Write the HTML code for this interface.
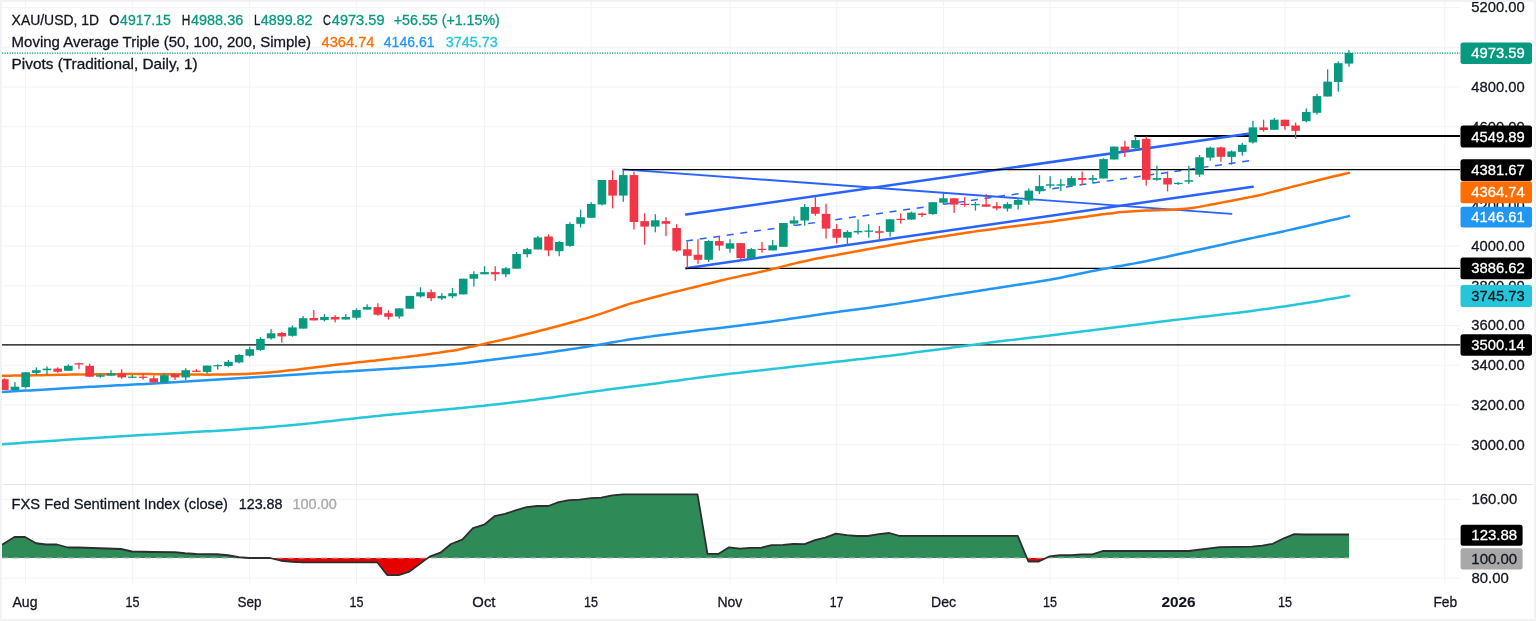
<!DOCTYPE html>
<html lang="en"><head><meta charset="utf-8"><title>XAU/USD 1D chart</title>
<style>html,body{margin:0;padding:0;background:#fff;overflow:hidden}svg{display:block}text{white-space:pre}</style>
</head><body>
<svg width="1536" height="621" viewBox="0 0 1536 621" font-family='"Liberation Sans", sans-serif' font-size="15">
<rect width="1536" height="621" fill="#fff"/>
<g stroke="#f2f3f6" stroke-width="1" fill="none">
<path d="M25.5,2 V584.3"/>
<path d="M132.4,2 V584.3"/>
<path d="M249.6,2 V584.3"/>
<path d="M356.5,2 V584.3"/>
<path d="M484.6,2 V584.3"/>
<path d="M591.2,2 V584.3"/>
<path d="M730.1,2 V584.3"/>
<path d="M836.7,2 V584.3"/>
<path d="M943.5,2 V584.3"/>
<path d="M1050.0,2 V584.3"/>
<path d="M1178.0,2 V584.3"/>
<path d="M1284.9,2 V584.3"/>
<path d="M1444.8,2 V584.3"/>
<path d="M2,7.50 H1460.3"/>
<path d="M2,47.25 H1460.3"/>
<path d="M2,87.00 H1460.3"/>
<path d="M2,126.75 H1460.3"/>
<path d="M2,166.50 H1460.3"/>
<path d="M2,206.25 H1460.3"/>
<path d="M2,246.00 H1460.3"/>
<path d="M2,285.75 H1460.3"/>
<path d="M2,325.50 H1460.3"/>
<path d="M2,365.25 H1460.3"/>
<path d="M2,405.00 H1460.3"/>
<path d="M2,444.75 H1460.3"/>
<path d="M2,499.3 H1460.3"/>
<path d="M2,538.9 H1460.3"/>
<path d="M2,578.2 H1460.3"/>
</g>
<path d="M2,484.5 H1534.2" stroke="#e4e7ee" stroke-width="1.2"/>
<clipPath id="cp"><rect x="1.7" y="1.8" width="1458.6" height="582"/></clipPath>
<g clip-path="url(#cp)">
<path d="M2,53.1 H1460.3" stroke="#089981" stroke-width="1.25" stroke-dasharray="1.25 1.25" fill="none"/>
<path d="M1134.3,136 H1460.3" stroke="#000" stroke-width="2.2"/>
<g stroke="#2962ff" fill="none" stroke-linecap="round">
<path d="M686.1,214.6 L1248.2,133.7" stroke-width="2.5"/>
<path d="M686.1,268.2 L1252.7,186.8" stroke-width="2.5"/>
<path d="M686.1,241 L1252.8,160.3" stroke-width="1.5" stroke-dasharray="7 6.7" stroke-linecap="butt"/>
<path d="M622.9,169.4 L1231.4,213.9" stroke-width="1.9"/>
</g>
<path d="M2,344.8 H1460.3" stroke="#000" stroke-width="1.15"/>
<path d="M686,268.4 H1460.3" stroke="#000" stroke-width="1.15"/>
<path d="M623,169.6 H1460.3" stroke="#000" stroke-width="1.15"/>
<path d="M2.00,444.25 C4.67,444.07 7.33,443.88 10.00,443.70 C12.67,443.52 15.33,443.33 18.00,443.15 C20.67,442.96 23.33,442.78 26.00,442.60 C28.67,442.41 31.33,442.23 34.00,442.05 C36.67,441.86 39.33,441.68 42.00,441.49 C44.67,441.31 47.33,441.13 50.00,440.94 C52.67,440.76 55.33,440.58 58.00,440.39 C60.67,440.21 63.33,440.03 66.00,439.84 C68.67,439.66 71.33,439.48 74.00,439.29 C76.67,439.11 79.33,438.93 82.00,438.75 C84.67,438.57 87.33,438.39 90.00,438.21 C92.67,438.03 95.33,437.86 98.00,437.69 C100.67,437.52 103.33,437.35 106.00,437.19 C108.67,437.03 111.33,436.87 114.00,436.71 C116.67,436.55 119.33,436.39 122.00,436.24 C124.67,436.08 127.33,435.93 130.00,435.78 C132.67,435.62 135.33,435.47 138.00,435.32 C140.67,435.16 143.33,435.01 146.00,434.86 C148.67,434.70 151.33,434.55 154.00,434.39 C156.67,434.24 159.33,434.09 162.00,433.93 C164.67,433.78 167.33,433.63 170.00,433.47 C172.67,433.32 175.33,433.17 178.00,433.01 C180.67,432.86 183.33,432.71 186.00,432.55 C188.67,432.40 191.33,432.24 194.00,432.08 C196.67,431.93 199.33,431.77 202.00,431.61 C204.67,431.45 207.33,431.29 210.00,431.13 C212.67,430.97 215.33,430.81 218.00,430.64 C220.67,430.48 223.33,430.32 226.00,430.15 C228.67,429.98 231.33,429.82 234.00,429.65 C236.67,429.47 239.33,429.30 242.00,429.12 C244.67,428.94 247.33,428.75 250.00,428.55 C252.67,428.36 255.33,428.16 258.00,427.95 C260.67,427.74 263.33,427.53 266.00,427.32 C268.67,427.10 271.33,426.88 274.00,426.66 C276.67,426.43 279.33,426.21 282.00,425.98 C284.67,425.75 287.33,425.52 290.00,425.28 C292.67,425.04 295.33,424.79 298.00,424.54 C300.67,424.28 303.33,424.01 306.00,423.74 C308.67,423.47 311.33,423.19 314.00,422.90 C316.67,422.62 319.33,422.33 322.00,422.03 C324.67,421.74 327.33,421.45 330.00,421.15 C332.67,420.85 335.33,420.56 338.00,420.26 C340.67,419.96 343.33,419.67 346.00,419.37 C348.67,419.08 351.33,418.78 354.00,418.49 C356.67,418.19 359.33,417.90 362.00,417.61 C364.67,417.32 367.33,417.03 370.00,416.75 C372.67,416.46 375.33,416.18 378.00,415.90 C380.67,415.63 383.33,415.36 386.00,415.09 C388.67,414.82 391.33,414.56 394.00,414.30 C396.67,414.04 399.33,413.79 402.00,413.54 C404.67,413.29 407.33,413.04 410.00,412.79 C412.67,412.54 415.33,412.29 418.00,412.04 C420.67,411.79 423.33,411.55 426.00,411.30 C428.67,411.05 431.33,410.80 434.00,410.55 C436.67,410.30 439.33,410.05 442.00,409.80 C444.67,409.54 447.33,409.29 450.00,409.04 C452.67,408.79 455.33,408.53 458.00,408.28 C460.67,408.02 463.33,407.76 466.00,407.50 C468.67,407.24 471.33,406.98 474.00,406.71 C476.67,406.44 479.33,406.17 482.00,405.89 C484.67,405.61 487.33,405.33 490.00,405.04 C492.67,404.74 495.33,404.44 498.00,404.14 C500.67,403.84 503.33,403.53 506.00,403.22 C508.67,402.91 511.33,402.60 514.00,402.29 C516.67,401.97 519.33,401.66 522.00,401.34 C524.67,401.02 527.33,400.69 530.00,400.36 C532.67,400.03 535.33,399.69 538.00,399.35 C540.67,399.00 543.33,398.64 546.00,398.28 C548.67,397.91 551.33,397.53 554.00,397.16 C556.67,396.78 559.33,396.39 562.00,396.01 C564.67,395.62 567.33,395.23 570.00,394.84 C572.67,394.46 575.33,394.07 578.00,393.69 C580.67,393.31 583.33,392.93 586.00,392.55 C588.67,392.18 591.33,391.81 594.00,391.45 C596.67,391.09 599.33,390.74 602.00,390.39 C604.67,390.03 607.33,389.69 610.00,389.35 C612.67,389.00 615.33,388.66 618.00,388.32 C620.67,387.98 623.33,387.64 626.00,387.30 C628.67,386.96 631.33,386.62 634.00,386.28 C636.67,385.94 639.33,385.59 642.00,385.25 C644.67,384.90 647.33,384.56 650.00,384.21 C652.67,383.86 655.33,383.50 658.00,383.15 C660.67,382.80 663.33,382.44 666.00,382.08 C668.67,381.73 671.33,381.37 674.00,381.01 C676.67,380.65 679.33,380.29 682.00,379.94 C684.67,379.58 687.33,379.22 690.00,378.87 C692.67,378.52 695.33,378.16 698.00,377.82 C700.67,377.47 703.33,377.12 706.00,376.78 C708.67,376.44 711.33,376.11 714.00,375.77 C716.67,375.44 719.33,375.11 722.00,374.79 C724.67,374.46 727.33,374.14 730.00,373.82 C732.67,373.51 735.33,373.20 738.00,372.89 C740.67,372.58 743.33,372.28 746.00,371.97 C748.67,371.67 751.33,371.37 754.00,371.07 C756.67,370.77 759.33,370.47 762.00,370.17 C764.67,369.87 767.33,369.57 770.00,369.27 C772.67,368.97 775.33,368.67 778.00,368.37 C780.67,368.07 783.33,367.77 786.00,367.47 C788.67,367.16 791.33,366.86 794.00,366.56 C796.67,366.26 799.33,365.96 802.00,365.66 C804.67,365.36 807.33,365.06 810.00,364.76 C812.67,364.45 815.33,364.15 818.00,363.85 C820.67,363.55 823.33,363.25 826.00,362.95 C828.67,362.65 831.33,362.35 834.00,362.05 C836.67,361.75 839.33,361.45 842.00,361.15 C844.67,360.85 847.33,360.55 850.00,360.25 C852.67,359.94 855.33,359.65 858.00,359.34 C860.67,359.04 863.33,358.74 866.00,358.44 C868.67,358.14 871.33,357.84 874.00,357.53 C876.67,357.23 879.33,356.92 882.00,356.60 C884.67,356.29 887.33,355.97 890.00,355.65 C892.67,355.32 895.33,354.99 898.00,354.66 C900.67,354.32 903.33,353.98 906.00,353.64 C908.67,353.30 911.33,352.95 914.00,352.61 C916.67,352.26 919.33,351.91 922.00,351.56 C924.67,351.21 927.33,350.86 930.00,350.51 C932.67,350.16 935.33,349.81 938.00,349.46 C940.67,349.11 943.33,348.76 946.00,348.41 C948.67,348.06 951.33,347.71 954.00,347.35 C956.67,347.00 959.33,346.65 962.00,346.29 C964.67,345.94 967.33,345.59 970.00,345.23 C972.67,344.88 975.33,344.53 978.00,344.18 C980.67,343.83 983.33,343.47 986.00,343.13 C988.67,342.78 991.33,342.44 994.00,342.10 C996.67,341.76 999.33,341.43 1002.00,341.10 C1004.67,340.77 1007.33,340.45 1010.00,340.13 C1012.67,339.82 1015.33,339.50 1018.00,339.19 C1020.67,338.88 1023.33,338.57 1026.00,338.26 C1028.67,337.95 1031.33,337.64 1034.00,337.33 C1036.67,337.02 1039.33,336.71 1042.00,336.39 C1044.67,336.08 1047.33,335.76 1050.00,335.44 C1052.67,335.12 1055.33,334.79 1058.00,334.46 C1060.67,334.14 1063.33,333.81 1066.00,333.47 C1068.67,333.14 1071.33,332.81 1074.00,332.47 C1076.67,332.14 1079.33,331.80 1082.00,331.47 C1084.67,331.13 1087.33,330.80 1090.00,330.46 C1092.67,330.13 1095.33,329.79 1098.00,329.46 C1100.67,329.12 1103.33,328.79 1106.00,328.45 C1108.67,328.12 1111.33,327.79 1114.00,327.45 C1116.67,327.12 1119.33,326.78 1122.00,326.45 C1124.67,326.12 1127.33,325.79 1130.00,325.46 C1132.67,325.12 1135.33,324.79 1138.00,324.46 C1140.67,324.13 1143.33,323.81 1146.00,323.48 C1148.67,323.15 1151.33,322.82 1154.00,322.50 C1156.67,322.17 1159.33,321.85 1162.00,321.53 C1164.67,321.20 1167.33,320.88 1170.00,320.56 C1172.67,320.25 1175.33,319.93 1178.00,319.62 C1180.67,319.30 1183.33,319.00 1186.00,318.69 C1188.67,318.38 1191.33,318.08 1194.00,317.77 C1196.67,317.47 1199.33,317.16 1202.00,316.86 C1204.67,316.56 1207.33,316.25 1210.00,315.95 C1212.67,315.64 1215.33,315.34 1218.00,315.03 C1220.67,314.72 1223.33,314.41 1226.00,314.10 C1228.67,313.78 1231.33,313.47 1234.00,313.15 C1236.67,312.83 1239.33,312.51 1242.00,312.18 C1244.67,311.85 1247.33,311.51 1250.00,311.17 C1252.67,310.82 1255.33,310.47 1258.00,310.11 C1260.67,309.75 1263.33,309.38 1266.00,309.01 C1268.67,308.64 1271.33,308.26 1274.00,307.88 C1276.67,307.50 1279.33,307.11 1282.00,306.72 C1284.67,306.32 1287.33,305.93 1290.00,305.52 C1292.67,305.12 1295.33,304.71 1298.00,304.30 C1300.67,303.89 1303.33,303.47 1306.00,303.05 C1308.67,302.62 1311.33,302.20 1314.00,301.76 C1316.67,301.32 1319.33,300.88 1322.00,300.43 C1324.67,299.98 1327.33,299.52 1330.00,299.06 C1332.67,298.60 1335.33,298.13 1338.00,297.66 C1341.67,297.01 1345.33,296.35 1349.00,295.70" stroke="#26c6da" stroke-width="2.5" fill="none" stroke-linecap="round" stroke-linejoin="round"/>
<path d="M2.00,392.00 C4.67,391.85 7.33,391.69 10.00,391.54 C12.67,391.39 15.33,391.24 18.00,391.08 C20.67,390.93 23.33,390.78 26.00,390.62 C28.67,390.47 31.33,390.32 34.00,390.17 C36.67,390.01 39.33,389.86 42.00,389.70 C44.67,389.55 47.33,389.39 50.00,389.24 C52.67,389.08 55.33,388.92 58.00,388.77 C60.67,388.61 63.33,388.45 66.00,388.29 C68.67,388.13 71.33,387.97 74.00,387.81 C76.67,387.65 79.33,387.49 82.00,387.33 C84.67,387.18 87.33,387.02 90.00,386.86 C92.67,386.71 95.33,386.56 98.00,386.41 C100.67,386.26 103.33,386.12 106.00,385.97 C108.67,385.83 111.33,385.69 114.00,385.56 C116.67,385.42 119.33,385.29 122.00,385.15 C124.67,385.02 127.33,384.88 130.00,384.75 C132.67,384.61 135.33,384.48 138.00,384.34 C140.67,384.20 143.33,384.06 146.00,383.92 C148.67,383.78 151.33,383.63 154.00,383.48 C156.67,383.33 159.33,383.18 162.00,383.02 C164.67,382.86 167.33,382.71 170.00,382.55 C172.67,382.39 175.33,382.23 178.00,382.07 C180.67,381.91 183.33,381.75 186.00,381.59 C188.67,381.42 191.33,381.26 194.00,381.10 C196.67,380.93 199.33,380.76 202.00,380.59 C204.67,380.42 207.33,380.25 210.00,380.08 C212.67,379.90 215.33,379.73 218.00,379.55 C220.67,379.38 223.33,379.20 226.00,379.03 C228.67,378.85 231.33,378.67 234.00,378.50 C236.67,378.32 239.33,378.14 242.00,377.97 C244.67,377.79 247.33,377.62 250.00,377.45 C252.67,377.27 255.33,377.10 258.00,376.93 C260.67,376.76 263.33,376.59 266.00,376.42 C268.67,376.25 271.33,376.08 274.00,375.91 C276.67,375.74 279.33,375.57 282.00,375.40 C284.67,375.23 287.33,375.06 290.00,374.89 C292.67,374.72 295.33,374.55 298.00,374.38 C300.67,374.21 303.33,374.05 306.00,373.88 C308.67,373.71 311.33,373.54 314.00,373.38 C316.67,373.21 319.33,373.04 322.00,372.88 C324.67,372.71 327.33,372.54 330.00,372.38 C332.67,372.21 335.33,372.04 338.00,371.88 C340.67,371.71 343.33,371.55 346.00,371.39 C348.67,371.22 351.33,371.06 354.00,370.91 C356.67,370.75 359.33,370.60 362.00,370.44 C364.67,370.29 367.33,370.14 370.00,370.00 C372.67,369.85 375.33,369.70 378.00,369.55 C380.67,369.40 383.33,369.25 386.00,369.10 C388.67,368.94 391.33,368.78 394.00,368.62 C396.67,368.46 399.33,368.29 402.00,368.12 C404.67,367.95 407.33,367.77 410.00,367.59 C412.67,367.42 415.33,367.24 418.00,367.05 C420.67,366.87 423.33,366.69 426.00,366.49 C428.67,366.30 431.33,366.11 434.00,365.90 C436.67,365.70 439.33,365.49 442.00,365.27 C444.67,365.05 447.33,364.82 450.00,364.58 C452.67,364.33 455.33,364.07 458.00,363.80 C460.67,363.53 463.33,363.24 466.00,362.94 C468.67,362.64 471.33,362.32 474.00,362.01 C476.67,361.69 479.33,361.36 482.00,361.04 C484.67,360.71 487.33,360.38 490.00,360.04 C492.67,359.71 495.33,359.38 498.00,359.04 C500.67,358.71 503.33,358.37 506.00,358.04 C508.67,357.70 511.33,357.37 514.00,357.03 C516.67,356.69 519.33,356.35 522.00,356.01 C524.67,355.67 527.33,355.33 530.00,354.98 C532.67,354.63 535.33,354.28 538.00,353.92 C540.67,353.56 543.33,353.19 546.00,352.82 C548.67,352.44 551.33,352.06 554.00,351.68 C556.67,351.29 559.33,350.90 562.00,350.51 C564.67,350.12 567.33,349.73 570.00,349.33 C572.67,348.93 575.33,348.54 578.00,348.13 C580.67,347.72 583.33,347.31 586.00,346.89 C588.67,346.46 591.33,346.02 594.00,345.57 C596.67,345.12 599.33,344.66 602.00,344.19 C604.67,343.73 607.33,343.24 610.00,342.78 C612.67,342.31 615.33,341.84 618.00,341.39 C620.67,340.94 623.33,340.50 626.00,340.07 C628.67,339.65 631.33,339.25 634.00,338.86 C636.67,338.47 639.33,338.10 642.00,337.73 C644.67,337.35 647.33,336.99 650.00,336.63 C652.67,336.27 655.33,335.91 658.00,335.55 C660.67,335.20 663.33,334.84 666.00,334.49 C668.67,334.14 671.33,333.80 674.00,333.46 C676.67,333.12 679.33,332.79 682.00,332.46 C684.67,332.13 687.33,331.81 690.00,331.49 C692.67,331.17 695.33,330.85 698.00,330.53 C700.67,330.22 703.33,329.90 706.00,329.59 C708.67,329.27 711.33,328.96 714.00,328.64 C716.67,328.32 719.33,328.01 722.00,327.69 C724.67,327.37 727.33,327.05 730.00,326.73 C732.67,326.41 735.33,326.09 738.00,325.76 C740.67,325.44 743.33,325.11 746.00,324.79 C748.67,324.46 751.33,324.13 754.00,323.79 C756.67,323.46 759.33,323.12 762.00,322.78 C764.67,322.43 767.33,322.07 770.00,321.71 C772.67,321.35 775.33,320.97 778.00,320.59 C780.67,320.22 783.33,319.83 786.00,319.44 C788.67,319.05 791.33,318.66 794.00,318.27 C796.67,317.88 799.33,317.49 802.00,317.09 C804.67,316.70 807.33,316.31 810.00,315.92 C812.67,315.53 815.33,315.13 818.00,314.74 C820.67,314.35 823.33,313.96 826.00,313.58 C828.67,313.20 831.33,312.82 834.00,312.44 C836.67,312.07 839.33,311.70 842.00,311.33 C844.67,310.97 847.33,310.61 850.00,310.26 C852.67,309.90 855.33,309.55 858.00,309.20 C860.67,308.85 863.33,308.50 866.00,308.14 C868.67,307.79 871.33,307.44 874.00,307.08 C876.67,306.72 879.33,306.36 882.00,305.99 C884.67,305.62 887.33,305.24 890.00,304.84 C892.67,304.45 895.33,304.05 898.00,303.63 C900.67,303.22 903.33,302.79 906.00,302.37 C908.67,301.94 911.33,301.50 914.00,301.07 C916.67,300.64 919.33,300.20 922.00,299.77 C924.67,299.33 927.33,298.90 930.00,298.46 C932.67,298.03 935.33,297.60 938.00,297.17 C940.67,296.74 943.33,296.32 946.00,295.89 C948.67,295.47 951.33,295.05 954.00,294.63 C956.67,294.22 959.33,293.80 962.00,293.39 C964.67,292.97 967.33,292.56 970.00,292.15 C972.67,291.73 975.33,291.32 978.00,290.91 C980.67,290.50 983.33,290.08 986.00,289.67 C988.67,289.26 991.33,288.85 994.00,288.44 C996.67,288.03 999.33,287.62 1002.00,287.22 C1004.67,286.81 1007.33,286.41 1010.00,286.01 C1012.67,285.60 1015.33,285.20 1018.00,284.80 C1020.67,284.40 1023.33,284.00 1026.00,283.59 C1028.67,283.19 1031.33,282.79 1034.00,282.37 C1036.67,281.95 1039.33,281.53 1042.00,281.09 C1044.67,280.64 1047.33,280.19 1050.00,279.70 C1052.67,279.22 1055.33,278.71 1058.00,278.19 C1060.67,277.67 1063.33,277.12 1066.00,276.58 C1068.67,276.03 1071.33,275.47 1074.00,274.91 C1076.67,274.35 1079.33,273.79 1082.00,273.23 C1084.67,272.67 1087.33,272.12 1090.00,271.58 C1092.67,271.04 1095.33,270.50 1098.00,269.99 C1100.67,269.47 1103.33,268.97 1106.00,268.48 C1108.67,267.99 1111.33,267.52 1114.00,267.05 C1116.67,266.58 1119.33,266.12 1122.00,265.65 C1124.67,265.18 1127.33,264.72 1130.00,264.24 C1132.67,263.75 1135.33,263.27 1138.00,262.76 C1140.67,262.25 1143.33,261.72 1146.00,261.18 C1148.67,260.64 1151.33,260.08 1154.00,259.52 C1156.67,258.96 1159.33,258.38 1162.00,257.81 C1164.67,257.23 1167.33,256.65 1170.00,256.07 C1172.67,255.49 1175.33,254.91 1178.00,254.32 C1180.67,253.74 1183.33,253.16 1186.00,252.57 C1188.67,251.99 1191.33,251.40 1194.00,250.82 C1196.67,250.23 1199.33,249.64 1202.00,249.06 C1204.67,248.47 1207.33,247.89 1210.00,247.30 C1212.67,246.71 1215.33,246.13 1218.00,245.54 C1220.67,244.95 1223.33,244.37 1226.00,243.78 C1228.67,243.19 1231.33,242.61 1234.00,242.02 C1236.67,241.44 1239.33,240.86 1242.00,240.28 C1244.67,239.70 1247.33,239.12 1250.00,238.55 C1252.67,237.97 1255.33,237.40 1258.00,236.83 C1260.67,236.26 1263.33,235.70 1266.00,235.13 C1268.67,234.56 1271.33,234.00 1274.00,233.42 C1276.67,232.85 1279.33,232.27 1282.00,231.68 C1284.67,231.09 1287.33,230.49 1290.00,229.89 C1292.67,229.29 1295.33,228.67 1298.00,228.05 C1300.67,227.44 1303.33,226.81 1306.00,226.19 C1308.67,225.56 1311.33,224.94 1314.00,224.31 C1316.67,223.69 1319.33,223.06 1322.00,222.43 C1324.67,221.81 1327.33,221.18 1330.00,220.56 C1332.67,219.93 1335.33,219.30 1338.00,218.68 C1341.67,217.82 1345.33,216.96 1349.00,216.10" stroke="#2196f3" stroke-width="2.5" fill="none" stroke-linecap="round" stroke-linejoin="round"/>
<path d="M2.00,375.75 C4.67,375.72 7.33,375.69 10.00,375.66 C12.67,375.63 15.33,375.60 18.00,375.57 C20.67,375.53 23.33,375.50 26.00,375.46 C28.67,375.41 31.33,375.36 34.00,375.32 C36.67,375.27 39.33,375.21 42.00,375.16 C44.67,375.11 47.33,375.05 50.00,375.00 C52.67,374.95 55.33,374.89 58.00,374.84 C60.67,374.79 63.33,374.73 66.00,374.69 C68.67,374.64 71.33,374.59 74.00,374.55 C76.67,374.51 79.33,374.48 82.00,374.45 C84.67,374.42 87.33,374.39 90.00,374.37 C92.67,374.34 95.33,374.32 98.00,374.30 C100.67,374.27 103.33,374.25 106.00,374.23 C108.67,374.20 111.33,374.18 114.00,374.16 C116.67,374.14 119.33,374.11 122.00,374.09 C124.67,374.08 127.33,374.06 130.00,374.05 C132.67,374.04 135.33,374.04 138.00,374.05 C140.67,374.06 143.33,374.07 146.00,374.08 C148.67,374.10 151.33,374.11 154.00,374.13 C156.67,374.14 159.33,374.16 162.00,374.18 C164.67,374.19 167.33,374.21 170.00,374.23 C172.67,374.25 175.33,374.28 178.00,374.31 C180.67,374.34 183.33,374.37 186.00,374.41 C188.67,374.44 191.33,374.49 194.00,374.52 C196.67,374.55 199.33,374.59 202.00,374.61 C204.67,374.63 207.33,374.65 210.00,374.64 C212.67,374.64 215.33,374.61 218.00,374.57 C220.67,374.54 223.33,374.49 226.00,374.44 C228.67,374.39 231.33,374.34 234.00,374.28 C236.67,374.22 239.33,374.17 242.00,374.09 C244.67,374.00 247.33,373.90 250.00,373.77 C252.67,373.63 255.33,373.46 258.00,373.28 C260.67,373.09 263.33,372.89 266.00,372.67 C268.67,372.46 271.33,372.23 274.00,371.99 C276.67,371.74 279.33,371.48 282.00,371.20 C284.67,370.93 287.33,370.64 290.00,370.34 C292.67,370.05 295.33,369.74 298.00,369.44 C300.67,369.13 303.33,368.81 306.00,368.48 C308.67,368.16 311.33,367.83 314.00,367.50 C316.67,367.17 319.33,366.83 322.00,366.51 C324.67,366.18 327.33,365.85 330.00,365.53 C332.67,365.21 335.33,364.90 338.00,364.58 C340.67,364.27 343.33,363.96 346.00,363.66 C348.67,363.35 351.33,363.05 354.00,362.76 C356.67,362.46 359.33,362.18 362.00,361.89 C364.67,361.61 367.33,361.33 370.00,361.05 C372.67,360.77 375.33,360.49 378.00,360.20 C380.67,359.91 383.33,359.61 386.00,359.31 C388.67,359.00 391.33,358.68 394.00,358.36 C396.67,358.04 399.33,357.71 402.00,357.38 C404.67,357.05 407.33,356.72 410.00,356.39 C412.67,356.06 415.33,355.73 418.00,355.40 C420.67,355.07 423.33,354.74 426.00,354.40 C428.67,354.06 431.33,353.71 434.00,353.36 C436.67,353.00 439.33,352.64 442.00,352.26 C444.67,351.89 447.33,351.51 450.00,351.09 C452.67,350.66 455.33,350.21 458.00,349.70 C460.67,349.20 463.33,348.62 466.00,348.04 C468.67,347.46 471.33,346.83 474.00,346.21 C476.67,345.60 479.33,344.98 482.00,344.38 C484.67,343.77 487.33,343.18 490.00,342.59 C492.67,341.99 495.33,341.42 498.00,340.83 C500.67,340.25 503.33,339.66 506.00,339.06 C508.67,338.45 511.33,337.83 514.00,337.20 C516.67,336.56 519.33,335.90 522.00,335.24 C524.67,334.58 527.33,333.91 530.00,333.25 C532.67,332.58 535.33,331.90 538.00,331.23 C540.67,330.55 543.33,329.87 546.00,329.18 C548.67,328.49 551.33,327.80 554.00,327.10 C556.67,326.41 559.33,325.71 562.00,324.99 C564.67,324.28 567.33,323.56 570.00,322.83 C572.67,322.10 575.33,321.36 578.00,320.61 C580.67,319.86 583.33,319.11 586.00,318.33 C588.67,317.55 591.33,316.75 594.00,315.91 C596.67,315.08 599.33,314.22 602.00,313.33 C604.67,312.44 607.33,311.52 610.00,310.59 C612.67,309.65 615.33,308.67 618.00,307.74 C620.67,306.82 623.33,305.89 626.00,305.03 C628.67,304.18 631.33,303.40 634.00,302.63 C636.67,301.86 639.33,301.15 642.00,300.42 C644.67,299.70 647.33,298.99 650.00,298.28 C652.67,297.57 655.33,296.87 658.00,296.18 C660.67,295.48 663.33,294.79 666.00,294.10 C668.67,293.42 671.33,292.73 674.00,292.06 C676.67,291.40 679.33,290.74 682.00,290.09 C684.67,289.43 687.33,288.79 690.00,288.15 C692.67,287.50 695.33,286.86 698.00,286.21 C700.67,285.56 703.33,284.90 706.00,284.24 C708.67,283.58 711.33,282.91 714.00,282.25 C716.67,281.59 719.33,280.92 722.00,280.28 C724.67,279.63 727.33,279.00 730.00,278.39 C732.67,277.78 735.33,277.20 738.00,276.63 C740.67,276.05 743.33,275.50 746.00,274.95 C748.67,274.39 751.33,273.85 754.00,273.28 C756.67,272.72 759.33,272.17 762.00,271.58 C764.67,270.98 767.33,270.37 770.00,269.72 C772.67,269.08 775.33,268.38 778.00,267.70 C780.67,267.02 783.33,266.31 786.00,265.63 C788.67,264.95 791.33,264.29 794.00,263.64 C796.67,263.00 799.33,262.37 802.00,261.76 C804.67,261.15 807.33,260.54 810.00,259.97 C812.67,259.40 815.33,258.86 818.00,258.34 C820.67,257.82 823.33,257.34 826.00,256.85 C828.67,256.37 831.33,255.91 834.00,255.43 C836.67,254.95 839.33,254.48 842.00,253.99 C844.67,253.51 847.33,253.02 850.00,252.53 C852.67,252.04 855.33,251.55 858.00,251.06 C860.67,250.56 863.33,250.07 866.00,249.58 C868.67,249.09 871.33,248.60 874.00,248.12 C876.67,247.63 879.33,247.15 882.00,246.67 C884.67,246.19 887.33,245.72 890.00,245.25 C892.67,244.78 895.33,244.32 898.00,243.85 C900.67,243.38 903.33,242.92 906.00,242.45 C908.67,241.99 911.33,241.52 914.00,241.07 C916.67,240.61 919.33,240.16 922.00,239.72 C924.67,239.27 927.33,238.84 930.00,238.41 C932.67,237.98 935.33,237.56 938.00,237.14 C940.67,236.72 943.33,236.30 946.00,235.89 C948.67,235.48 951.33,235.08 954.00,234.67 C956.67,234.27 959.33,233.86 962.00,233.46 C964.67,233.06 967.33,232.66 970.00,232.26 C972.67,231.87 975.33,231.48 978.00,231.10 C980.67,230.72 983.33,230.35 986.00,229.98 C988.67,229.62 991.33,229.27 994.00,228.91 C996.67,228.56 999.33,228.21 1002.00,227.86 C1004.67,227.51 1007.33,227.16 1010.00,226.82 C1012.67,226.47 1015.33,226.12 1018.00,225.78 C1020.67,225.43 1023.33,225.09 1026.00,224.76 C1028.67,224.42 1031.33,224.09 1034.00,223.75 C1036.67,223.41 1039.33,223.08 1042.00,222.74 C1044.67,222.40 1047.33,222.05 1050.00,221.70 C1052.67,221.34 1055.33,220.97 1058.00,220.61 C1060.67,220.24 1063.33,219.86 1066.00,219.48 C1068.67,219.11 1071.33,218.73 1074.00,218.35 C1076.67,217.98 1079.33,217.60 1082.00,217.22 C1084.67,216.85 1087.33,216.47 1090.00,216.10 C1092.67,215.73 1095.33,215.35 1098.00,214.98 C1100.67,214.61 1103.33,214.24 1106.00,213.89 C1108.67,213.55 1111.33,213.21 1114.00,212.91 C1116.67,212.61 1119.33,212.32 1122.00,212.07 C1124.67,211.82 1127.33,211.60 1130.00,211.41 C1132.67,211.22 1135.33,211.08 1138.00,210.95 C1140.67,210.82 1143.33,210.72 1146.00,210.62 C1148.67,210.51 1151.33,210.42 1154.00,210.32 C1156.67,210.23 1159.33,210.13 1162.00,210.03 C1164.67,209.93 1167.33,209.84 1170.00,209.72 C1172.67,209.60 1175.33,209.47 1178.00,209.29 C1180.67,209.11 1183.33,208.91 1186.00,208.64 C1188.67,208.37 1191.33,208.06 1194.00,207.68 C1196.67,207.31 1199.33,206.85 1202.00,206.37 C1204.67,205.90 1207.33,205.35 1210.00,204.84 C1212.67,204.32 1215.33,203.78 1218.00,203.27 C1220.67,202.75 1223.33,202.24 1226.00,201.74 C1228.67,201.23 1231.33,200.73 1234.00,200.22 C1236.67,199.71 1239.33,199.21 1242.00,198.69 C1244.67,198.18 1247.33,197.66 1250.00,197.13 C1252.67,196.59 1255.33,196.05 1258.00,195.47 C1260.67,194.88 1263.33,194.26 1266.00,193.61 C1268.67,192.96 1271.33,192.26 1274.00,191.56 C1276.67,190.87 1279.33,190.16 1282.00,189.46 C1284.67,188.77 1287.33,188.08 1290.00,187.40 C1292.67,186.72 1295.33,186.06 1298.00,185.39 C1300.67,184.72 1303.33,184.05 1306.00,183.38 C1308.67,182.71 1311.33,182.02 1314.00,181.34 C1316.67,180.67 1319.33,179.97 1322.00,179.30 C1324.67,178.63 1327.33,177.96 1330.00,177.31 C1332.67,176.66 1335.33,176.03 1338.00,175.41 C1341.67,174.56 1345.33,173.74 1349.00,172.90" stroke="#ff6d00" stroke-width="2.5" fill="none" stroke-linecap="round" stroke-linejoin="round"/>
<rect x="3.65" y="378.30" width="1.3" height="11.70" fill="#f23645"/>
<rect x="0.00" y="379.20" width="8.6" height="10.80" fill="#f23645"/>
<rect x="14.32" y="382.10" width="1.3" height="7.90" fill="#089981"/>
<rect x="10.67" y="386.70" width="8.6" height="3.30" fill="#089981"/>
<rect x="24.99" y="372.30" width="1.3" height="16.10" fill="#089981"/>
<rect x="21.34" y="372.30" width="8.6" height="14.80" fill="#089981"/>
<rect x="35.67" y="367.40" width="1.3" height="7.50" fill="#089981"/>
<rect x="32.02" y="370.20" width="8.6" height="2.70" fill="#089981"/>
<rect x="46.34" y="366.40" width="1.3" height="8.10" fill="#089981"/>
<rect x="42.69" y="368.60" width="8.6" height="1.60" fill="#089981"/>
<rect x="57.01" y="367.40" width="1.3" height="5.30" fill="#f23645"/>
<rect x="53.36" y="368.60" width="8.6" height="3.20" fill="#f23645"/>
<rect x="67.68" y="364.50" width="1.3" height="6.30" fill="#089981"/>
<rect x="64.03" y="365.80" width="8.6" height="5.00" fill="#089981"/>
<rect x="78.35" y="362.60" width="1.3" height="6.30" fill="#f23645"/>
<rect x="74.70" y="363.20" width="8.6" height="1.30" fill="#f23645"/>
<rect x="89.03" y="363.60" width="1.3" height="13.10" fill="#f23645"/>
<rect x="85.38" y="365.80" width="8.6" height="10.90" fill="#f23645"/>
<rect x="99.70" y="373.70" width="1.3" height="4.00" fill="#089981"/>
<rect x="96.05" y="375.20" width="8.6" height="1.50" fill="#089981"/>
<rect x="110.37" y="370.20" width="1.3" height="5.40" fill="#089981"/>
<rect x="106.72" y="373.30" width="8.6" height="2.30" fill="#089981"/>
<rect x="121.04" y="369.30" width="1.3" height="9.40" fill="#f23645"/>
<rect x="117.39" y="373.30" width="8.6" height="4.10" fill="#f23645"/>
<rect x="131.71" y="374.90" width="1.3" height="2.80" fill="#089981"/>
<rect x="128.06" y="376.65" width="8.6" height="1.20" fill="#089981"/>
<rect x="142.39" y="373.30" width="1.3" height="6.30" fill="#f23645"/>
<rect x="138.74" y="376.65" width="8.6" height="1.20" fill="#f23645"/>
<rect x="153.06" y="375.60" width="1.3" height="6.90" fill="#f23645"/>
<rect x="149.41" y="378.30" width="8.6" height="4.20" fill="#f23645"/>
<rect x="163.73" y="373.90" width="1.3" height="8.60" fill="#089981"/>
<rect x="160.08" y="375.20" width="8.6" height="7.30" fill="#089981"/>
<rect x="174.40" y="374.20" width="1.3" height="5.80" fill="#f23645"/>
<rect x="170.75" y="374.20" width="8.6" height="3.20" fill="#f23645"/>
<rect x="185.07" y="368.30" width="1.3" height="11.70" fill="#089981"/>
<rect x="181.42" y="370.20" width="8.6" height="7.20" fill="#089981"/>
<rect x="195.75" y="369.10" width="1.3" height="2.80" fill="#f23645"/>
<rect x="192.10" y="370.60" width="8.6" height="1.30" fill="#f23645"/>
<rect x="206.42" y="365.60" width="1.3" height="8.30" fill="#089981"/>
<rect x="202.77" y="365.60" width="8.6" height="6.30" fill="#089981"/>
<rect x="217.09" y="364.30" width="1.3" height="5.40" fill="#089981"/>
<rect x="213.44" y="365.10" width="8.6" height="1.20" fill="#089981"/>
<rect x="227.76" y="360.00" width="1.3" height="7.20" fill="#089981"/>
<rect x="224.11" y="361.80" width="8.6" height="4.20" fill="#089981"/>
<rect x="238.43" y="354.00" width="1.3" height="9.40" fill="#089981"/>
<rect x="234.78" y="355.00" width="8.6" height="7.40" fill="#089981"/>
<rect x="249.11" y="346.70" width="1.3" height="10.10" fill="#089981"/>
<rect x="245.46" y="349.20" width="8.6" height="6.50" fill="#089981"/>
<rect x="259.78" y="337.10" width="1.3" height="13.80" fill="#089981"/>
<rect x="256.13" y="338.90" width="8.6" height="11.00" fill="#089981"/>
<rect x="270.45" y="329.10" width="1.3" height="10.50" fill="#089981"/>
<rect x="266.80" y="333.30" width="8.6" height="5.00" fill="#089981"/>
<rect x="281.12" y="332.00" width="1.3" height="10.50" fill="#f23645"/>
<rect x="277.47" y="333.00" width="8.6" height="3.40" fill="#f23645"/>
<rect x="291.79" y="325.50" width="1.3" height="11.20" fill="#089981"/>
<rect x="288.14" y="327.40" width="8.6" height="8.40" fill="#089981"/>
<rect x="302.47" y="316.10" width="1.3" height="12.50" fill="#089981"/>
<rect x="298.82" y="318.20" width="8.6" height="10.40" fill="#089981"/>
<rect x="313.14" y="310.00" width="1.3" height="10.40" fill="#f23645"/>
<rect x="309.49" y="318.00" width="8.6" height="2.40" fill="#f23645"/>
<rect x="323.81" y="314.10" width="1.3" height="7.30" fill="#089981"/>
<rect x="320.16" y="317.00" width="8.6" height="3.10" fill="#089981"/>
<rect x="334.48" y="315.10" width="1.3" height="7.30" fill="#f23645"/>
<rect x="330.83" y="317.00" width="8.6" height="2.50" fill="#f23645"/>
<rect x="345.15" y="314.10" width="1.3" height="5.40" fill="#089981"/>
<rect x="341.50" y="317.00" width="8.6" height="2.50" fill="#089981"/>
<rect x="355.83" y="308.40" width="1.3" height="11.20" fill="#089981"/>
<rect x="352.18" y="310.10" width="8.6" height="7.60" fill="#089981"/>
<rect x="366.50" y="304.20" width="1.3" height="5.40" fill="#089981"/>
<rect x="362.85" y="307.10" width="8.6" height="2.50" fill="#089981"/>
<rect x="377.17" y="303.20" width="1.3" height="12.60" fill="#f23645"/>
<rect x="373.52" y="307.10" width="8.6" height="7.60" fill="#f23645"/>
<rect x="387.84" y="310.30" width="1.3" height="9.30" fill="#f23645"/>
<rect x="384.19" y="313.20" width="8.6" height="3.50" fill="#f23645"/>
<rect x="398.51" y="308.40" width="1.3" height="10.30" fill="#089981"/>
<rect x="394.86" y="308.40" width="8.6" height="8.10" fill="#089981"/>
<rect x="409.19" y="295.90" width="1.3" height="12.80" fill="#089981"/>
<rect x="405.54" y="295.90" width="8.6" height="12.80" fill="#089981"/>
<rect x="419.86" y="287.30" width="1.3" height="10.40" fill="#089981"/>
<rect x="416.21" y="292.30" width="8.6" height="4.10" fill="#089981"/>
<rect x="430.53" y="289.40" width="1.3" height="11.70" fill="#f23645"/>
<rect x="426.88" y="292.20" width="8.6" height="6.00" fill="#f23645"/>
<rect x="441.20" y="293.20" width="1.3" height="6.90" fill="#089981"/>
<rect x="437.55" y="295.90" width="8.6" height="2.50" fill="#089981"/>
<rect x="451.87" y="288.10" width="1.3" height="10.10" fill="#089981"/>
<rect x="448.22" y="293.20" width="8.6" height="3.10" fill="#089981"/>
<rect x="462.55" y="278.70" width="1.3" height="15.70" fill="#089981"/>
<rect x="458.90" y="278.70" width="8.6" height="15.70" fill="#089981"/>
<rect x="473.22" y="271.20" width="1.3" height="15.40" fill="#089981"/>
<rect x="469.57" y="274.10" width="8.6" height="4.60" fill="#089981"/>
<rect x="483.89" y="266.20" width="1.3" height="8.10" fill="#089981"/>
<rect x="480.24" y="272.10" width="8.6" height="2.20" fill="#089981"/>
<rect x="494.56" y="266.20" width="1.3" height="14.60" fill="#f23645"/>
<rect x="490.91" y="272.10" width="8.6" height="2.20" fill="#f23645"/>
<rect x="505.23" y="267.00" width="1.3" height="10.20" fill="#089981"/>
<rect x="501.58" y="268.30" width="8.6" height="6.00" fill="#089981"/>
<rect x="515.91" y="252.00" width="1.3" height="16.70" fill="#089981"/>
<rect x="512.26" y="254.00" width="8.6" height="14.70" fill="#089981"/>
<rect x="526.58" y="247.90" width="1.3" height="9.50" fill="#089981"/>
<rect x="522.93" y="249.20" width="8.6" height="5.00" fill="#089981"/>
<rect x="537.25" y="236.00" width="1.3" height="13.50" fill="#089981"/>
<rect x="533.60" y="237.50" width="8.6" height="12.00" fill="#089981"/>
<rect x="547.92" y="234.40" width="1.3" height="21.80" fill="#f23645"/>
<rect x="544.27" y="236.50" width="8.6" height="13.90" fill="#f23645"/>
<rect x="558.59" y="241.10" width="1.3" height="15.10" fill="#089981"/>
<rect x="554.94" y="242.00" width="8.6" height="9.20" fill="#089981"/>
<rect x="569.27" y="222.20" width="1.3" height="24.60" fill="#089981"/>
<rect x="565.62" y="224.00" width="8.6" height="21.90" fill="#089981"/>
<rect x="579.94" y="209.60" width="1.3" height="17.90" fill="#089981"/>
<rect x="576.29" y="217.20" width="8.6" height="6.60" fill="#089981"/>
<rect x="590.61" y="202.20" width="1.3" height="15.60" fill="#089981"/>
<rect x="586.96" y="204.00" width="8.6" height="13.80" fill="#089981"/>
<rect x="601.28" y="180.00" width="1.3" height="25.40" fill="#089981"/>
<rect x="597.63" y="180.00" width="8.6" height="24.50" fill="#089981"/>
<rect x="611.95" y="170.30" width="1.3" height="38.10" fill="#f23645"/>
<rect x="608.30" y="180.00" width="8.6" height="15.60" fill="#f23645"/>
<rect x="622.63" y="169.40" width="1.3" height="32.40" fill="#089981"/>
<rect x="618.98" y="175.10" width="8.6" height="20.50" fill="#089981"/>
<rect x="633.30" y="171.70" width="1.3" height="57.90" fill="#f23645"/>
<rect x="629.65" y="175.10" width="8.6" height="46.90" fill="#f23645"/>
<rect x="643.97" y="213.20" width="1.3" height="31.50" fill="#f23645"/>
<rect x="640.32" y="221.10" width="8.6" height="5.50" fill="#f23645"/>
<rect x="654.64" y="214.20" width="1.3" height="18.10" fill="#089981"/>
<rect x="650.99" y="220.30" width="8.6" height="6.30" fill="#089981"/>
<rect x="665.31" y="217.20" width="1.3" height="19.00" fill="#f23645"/>
<rect x="661.66" y="221.10" width="8.6" height="2.70" fill="#f23645"/>
<rect x="675.99" y="224.20" width="1.3" height="27.50" fill="#f23645"/>
<rect x="672.34" y="228.00" width="8.6" height="22.60" fill="#f23645"/>
<rect x="686.66" y="242.00" width="1.3" height="26.20" fill="#f23645"/>
<rect x="683.01" y="249.30" width="8.6" height="6.50" fill="#f23645"/>
<rect x="697.33" y="239.20" width="1.3" height="24.70" fill="#f23645"/>
<rect x="693.68" y="254.70" width="8.6" height="5.10" fill="#f23645"/>
<rect x="708.00" y="240.10" width="1.3" height="21.90" fill="#089981"/>
<rect x="704.35" y="241.00" width="8.6" height="18.80" fill="#089981"/>
<rect x="718.67" y="236.00" width="1.3" height="14.70" fill="#f23645"/>
<rect x="715.02" y="241.10" width="8.6" height="4.50" fill="#f23645"/>
<rect x="729.35" y="239.20" width="1.3" height="13.40" fill="#089981"/>
<rect x="725.70" y="243.30" width="8.6" height="5.40" fill="#089981"/>
<rect x="740.02" y="243.10" width="1.3" height="15.90" fill="#f23645"/>
<rect x="736.37" y="243.10" width="8.6" height="15.00" fill="#f23645"/>
<rect x="750.69" y="248.10" width="1.3" height="10.90" fill="#089981"/>
<rect x="747.04" y="249.10" width="8.6" height="9.00" fill="#089981"/>
<rect x="761.36" y="242.00" width="1.3" height="10.60" fill="#f23645"/>
<rect x="757.71" y="248.80" width="8.6" height="1.20" fill="#f23645"/>
<rect x="772.03" y="240.10" width="1.3" height="10.30" fill="#089981"/>
<rect x="768.38" y="245.30" width="8.6" height="5.10" fill="#089981"/>
<rect x="782.71" y="223.00" width="1.3" height="23.80" fill="#089981"/>
<rect x="779.06" y="223.00" width="8.6" height="23.80" fill="#089981"/>
<rect x="793.38" y="216.30" width="1.3" height="9.60" fill="#089981"/>
<rect x="789.73" y="220.40" width="8.6" height="3.20" fill="#089981"/>
<rect x="804.05" y="204.00" width="1.3" height="21.70" fill="#089981"/>
<rect x="800.40" y="207.00" width="8.6" height="13.50" fill="#089981"/>
<rect x="814.72" y="197.20" width="1.3" height="18.60" fill="#f23645"/>
<rect x="811.07" y="207.00" width="8.6" height="6.80" fill="#f23645"/>
<rect x="825.39" y="203.80" width="1.3" height="34.80" fill="#f23645"/>
<rect x="821.74" y="213.80" width="8.6" height="14.80" fill="#f23645"/>
<rect x="836.07" y="224.20" width="1.3" height="19.30" fill="#f23645"/>
<rect x="832.42" y="229.00" width="8.6" height="8.70" fill="#f23645"/>
<rect x="846.74" y="230.30" width="1.3" height="15.40" fill="#089981"/>
<rect x="843.09" y="231.90" width="8.6" height="5.80" fill="#089981"/>
<rect x="857.41" y="219.30" width="1.3" height="15.10" fill="#089981"/>
<rect x="853.76" y="230.90" width="8.6" height="1.50" fill="#089981"/>
<rect x="868.08" y="224.20" width="1.3" height="13.50" fill="#089981"/>
<rect x="864.43" y="230.50" width="8.6" height="1.30" fill="#089981"/>
<rect x="878.75" y="226.00" width="1.3" height="14.60" fill="#f23645"/>
<rect x="875.10" y="231.20" width="8.6" height="1.60" fill="#f23645"/>
<rect x="889.43" y="219.30" width="1.3" height="17.40" fill="#089981"/>
<rect x="885.78" y="219.30" width="8.6" height="12.60" fill="#089981"/>
<rect x="900.10" y="213.50" width="1.3" height="10.10" fill="#f23645"/>
<rect x="896.45" y="218.80" width="8.6" height="1.20" fill="#f23645"/>
<rect x="910.77" y="211.60" width="1.3" height="8.00" fill="#089981"/>
<rect x="907.12" y="212.60" width="8.6" height="7.00" fill="#089981"/>
<rect x="921.44" y="212.50" width="1.3" height="4.50" fill="#f23645"/>
<rect x="917.79" y="213.50" width="8.6" height="1.50" fill="#f23645"/>
<rect x="932.11" y="202.20" width="1.3" height="12.60" fill="#089981"/>
<rect x="928.46" y="202.20" width="8.6" height="11.90" fill="#089981"/>
<rect x="942.79" y="193.40" width="1.3" height="11.40" fill="#089981"/>
<rect x="939.14" y="198.30" width="8.6" height="4.40" fill="#089981"/>
<rect x="953.46" y="198.30" width="1.3" height="14.70" fill="#f23645"/>
<rect x="949.81" y="198.30" width="8.6" height="6.30" fill="#f23645"/>
<rect x="964.13" y="197.00" width="1.3" height="9.70" fill="#f23645"/>
<rect x="960.48" y="203.80" width="8.6" height="1.20" fill="#f23645"/>
<rect x="974.80" y="201.90" width="1.3" height="8.70" fill="#089981"/>
<rect x="971.15" y="203.90" width="8.6" height="1.30" fill="#089981"/>
<rect x="985.47" y="194.20" width="1.3" height="12.50" fill="#f23645"/>
<rect x="981.82" y="204.40" width="8.6" height="2.30" fill="#f23645"/>
<rect x="996.15" y="202.20" width="1.3" height="8.10" fill="#f23645"/>
<rect x="992.50" y="206.10" width="8.6" height="2.30" fill="#f23645"/>
<rect x="1006.82" y="202.20" width="1.3" height="9.40" fill="#089981"/>
<rect x="1003.17" y="204.10" width="8.6" height="4.50" fill="#089981"/>
<rect x="1017.49" y="198.30" width="1.3" height="11.20" fill="#089981"/>
<rect x="1013.84" y="200.00" width="8.6" height="4.80" fill="#089981"/>
<rect x="1028.16" y="188.40" width="1.3" height="16.40" fill="#089981"/>
<rect x="1024.51" y="190.60" width="8.6" height="10.00" fill="#089981"/>
<rect x="1038.83" y="175.10" width="1.3" height="19.00" fill="#089981"/>
<rect x="1035.18" y="186.10" width="8.6" height="5.10" fill="#089981"/>
<rect x="1049.51" y="176.20" width="1.3" height="12.20" fill="#089981"/>
<rect x="1045.86" y="184.30" width="8.6" height="1.40" fill="#089981"/>
<rect x="1060.18" y="179.00" width="1.3" height="12.20" fill="#089981"/>
<rect x="1056.53" y="184.30" width="8.6" height="1.40" fill="#089981"/>
<rect x="1070.85" y="176.20" width="1.3" height="9.50" fill="#089981"/>
<rect x="1067.20" y="178.10" width="8.6" height="7.60" fill="#089981"/>
<rect x="1081.52" y="171.50" width="1.3" height="13.40" fill="#f23645"/>
<rect x="1077.87" y="178.00" width="8.6" height="1.80" fill="#f23645"/>
<rect x="1092.19" y="175.00" width="1.3" height="8.60" fill="#089981"/>
<rect x="1088.54" y="178.10" width="8.6" height="1.70" fill="#089981"/>
<rect x="1102.87" y="158.20" width="1.3" height="20.30" fill="#089981"/>
<rect x="1099.22" y="159.10" width="8.6" height="19.40" fill="#089981"/>
<rect x="1113.54" y="146.60" width="1.3" height="12.90" fill="#089981"/>
<rect x="1109.89" y="146.60" width="8.6" height="12.90" fill="#089981"/>
<rect x="1124.21" y="140.70" width="1.3" height="16.30" fill="#f23645"/>
<rect x="1120.56" y="146.60" width="8.6" height="4.20" fill="#f23645"/>
<rect x="1134.88" y="136.20" width="1.3" height="14.60" fill="#089981"/>
<rect x="1131.23" y="140.10" width="8.6" height="8.10" fill="#089981"/>
<rect x="1145.55" y="136.30" width="1.3" height="49.30" fill="#f23645"/>
<rect x="1141.90" y="138.90" width="8.6" height="40.90" fill="#f23645"/>
<rect x="1156.23" y="165.60" width="1.3" height="15.20" fill="#089981"/>
<rect x="1152.58" y="178.10" width="8.6" height="1.70" fill="#089981"/>
<rect x="1166.90" y="171.60" width="1.3" height="19.80" fill="#f23645"/>
<rect x="1163.25" y="178.10" width="8.6" height="6.40" fill="#f23645"/>
<rect x="1177.57" y="182.00" width="1.3" height="2.90" fill="#089981"/>
<rect x="1173.92" y="182.85" width="8.6" height="1.20" fill="#089981"/>
<rect x="1188.24" y="165.90" width="1.3" height="18.00" fill="#089981"/>
<rect x="1184.59" y="180.20" width="8.6" height="1.50" fill="#089981"/>
<rect x="1198.91" y="155.00" width="1.3" height="21.90" fill="#089981"/>
<rect x="1195.26" y="157.20" width="8.6" height="17.40" fill="#089981"/>
<rect x="1209.59" y="146.70" width="1.3" height="14.00" fill="#089981"/>
<rect x="1205.94" y="147.70" width="8.6" height="9.90" fill="#089981"/>
<rect x="1220.26" y="146.70" width="1.3" height="15.00" fill="#f23645"/>
<rect x="1216.61" y="147.40" width="8.6" height="9.40" fill="#f23645"/>
<rect x="1230.93" y="150.40" width="1.3" height="14.20" fill="#089981"/>
<rect x="1227.28" y="151.40" width="8.6" height="5.50" fill="#089981"/>
<rect x="1241.60" y="142.90" width="1.3" height="12.80" fill="#089981"/>
<rect x="1237.95" y="144.80" width="8.6" height="7.10" fill="#089981"/>
<rect x="1252.27" y="120.80" width="1.3" height="22.80" fill="#089981"/>
<rect x="1248.62" y="127.40" width="8.6" height="15.00" fill="#089981"/>
<rect x="1262.95" y="119.70" width="1.3" height="12.00" fill="#f23645"/>
<rect x="1259.30" y="127.40" width="8.6" height="2.60" fill="#f23645"/>
<rect x="1273.62" y="117.90" width="1.3" height="11.90" fill="#089981"/>
<rect x="1269.97" y="119.70" width="8.6" height="10.10" fill="#089981"/>
<rect x="1284.29" y="119.70" width="1.3" height="10.10" fill="#f23645"/>
<rect x="1280.64" y="119.70" width="8.6" height="6.40" fill="#f23645"/>
<rect x="1294.96" y="122.60" width="1.3" height="16.20" fill="#f23645"/>
<rect x="1291.31" y="125.50" width="8.6" height="5.30" fill="#f23645"/>
<rect x="1305.63" y="108.50" width="1.3" height="13.80" fill="#089981"/>
<rect x="1301.98" y="112.00" width="8.6" height="9.20" fill="#089981"/>
<rect x="1316.31" y="93.90" width="1.3" height="20.70" fill="#089981"/>
<rect x="1312.66" y="96.10" width="8.6" height="16.70" fill="#089981"/>
<rect x="1326.98" y="69.40" width="1.3" height="27.10" fill="#089981"/>
<rect x="1323.33" y="81.60" width="8.6" height="14.90" fill="#089981"/>
<rect x="1337.65" y="61.40" width="1.3" height="30.30" fill="#089981"/>
<rect x="1334.00" y="63.20" width="8.6" height="18.80" fill="#089981"/>
<rect x="1348.32" y="50.10" width="1.3" height="16.70" fill="#089981"/>
<rect x="1344.67" y="53.00" width="8.6" height="10.60" fill="#089981"/>
<clipPath id="up"><rect x="0" y="485" width="1460.3" height="73.0"/></clipPath>
<clipPath id="dn"><rect x="0" y="558.0" width="1460.3" height="26.0"/></clipPath>
<path d="M2.00,544.75 L14.50,537.00 L25.00,537.00 L36.00,543.25 L46.00,544.50 L57.00,544.50 L68.00,547.50 L78.00,547.50 L100.00,548.25 L121.00,549.00 L132.00,551.50 L153.00,552.00 L175.00,552.25 L185.00,553.25 L196.00,554.00 L217.00,554.25 L228.00,555.25 L239.00,557.25 L249.00,558.00 L270.00,558.00 L281.00,560.75 L292.00,561.75 L303.00,562.25 L377.20,562.30 L387.40,575.20 L398.60,575.20 L408.80,571.90 L418.90,564.50 L429.60,556.60 L440.40,552.70 L451.00,544.00 L462.30,539.70 L473.00,528.20 L484.20,524.70 L494.50,516.20 L504.90,513.90 L516.30,510.10 L526.60,507.10 L537.00,506.00 L548.30,506.00 L558.70,502.20 L569.10,500.10 L579.50,499.70 L590.80,498.20 L601.20,497.60 L612.50,495.40 L622.90,494.40 L697.50,494.40 L707.50,553.90 L718.30,553.90 L729.00,547.30 L740.00,548.60 L750.00,547.80 L760.90,547.80 L771.60,545.10 L783.00,544.90 L793.30,544.00 L804.70,544.20 L814.90,540.10 L825.20,537.60 L835.90,533.70 L846.80,535.10 L857.10,536.00 L868.00,536.00 L878.70,534.20 L889.40,533.00 L899.20,535.80 L1017.70,535.80 L1028.40,561.50 L1038.90,561.50 L1049.60,556.30 L1059.90,555.10 L1071.30,555.10 L1081.50,554.30 L1092.30,554.30 L1102.70,551.00 L1188.60,551.00 L1219.70,547.20 L1251.80,546.60 L1262.20,545.70 L1272.60,543.80 L1283.90,538.30 L1294.30,534.20 L1304.70,534.50 L1349.00,534.50 L1349,558.0 L2,558.0 Z" fill="#2e8b57" clip-path="url(#up)"/>
<path d="M2.00,544.75 L14.50,537.00 L25.00,537.00 L36.00,543.25 L46.00,544.50 L57.00,544.50 L68.00,547.50 L78.00,547.50 L100.00,548.25 L121.00,549.00 L132.00,551.50 L153.00,552.00 L175.00,552.25 L185.00,553.25 L196.00,554.00 L217.00,554.25 L228.00,555.25 L239.00,557.25 L249.00,558.00 L270.00,558.00 L281.00,560.75 L292.00,561.75 L303.00,562.25 L377.20,562.30 L387.40,575.20 L398.60,575.20 L408.80,571.90 L418.90,564.50 L429.60,556.60 L440.40,552.70 L451.00,544.00 L462.30,539.70 L473.00,528.20 L484.20,524.70 L494.50,516.20 L504.90,513.90 L516.30,510.10 L526.60,507.10 L537.00,506.00 L548.30,506.00 L558.70,502.20 L569.10,500.10 L579.50,499.70 L590.80,498.20 L601.20,497.60 L612.50,495.40 L622.90,494.40 L697.50,494.40 L707.50,553.90 L718.30,553.90 L729.00,547.30 L740.00,548.60 L750.00,547.80 L760.90,547.80 L771.60,545.10 L783.00,544.90 L793.30,544.00 L804.70,544.20 L814.90,540.10 L825.20,537.60 L835.90,533.70 L846.80,535.10 L857.10,536.00 L868.00,536.00 L878.70,534.20 L889.40,533.00 L899.20,535.80 L1017.70,535.80 L1028.40,561.50 L1038.90,561.50 L1049.60,556.30 L1059.90,555.10 L1071.30,555.10 L1081.50,554.30 L1092.30,554.30 L1102.70,551.00 L1188.60,551.00 L1219.70,547.20 L1251.80,546.60 L1262.20,545.70 L1272.60,543.80 L1283.90,538.30 L1294.30,534.20 L1304.70,534.50 L1349.00,534.50 L1349,558.0 L2,558.0 Z" fill="#e60000" clip-path="url(#dn)"/>
<path d="M2,558.0 H1349" stroke="#b8b8b8" stroke-width="1.2" stroke-dasharray="6 5" fill="none"/>
<path d="M2.00,544.75 L14.50,537.00 L25.00,537.00 L36.00,543.25 L46.00,544.50 L57.00,544.50 L68.00,547.50 L78.00,547.50 L100.00,548.25 L121.00,549.00 L132.00,551.50 L153.00,552.00 L175.00,552.25 L185.00,553.25 L196.00,554.00 L217.00,554.25 L228.00,555.25 L239.00,557.25 L249.00,558.00 L270.00,558.00 L281.00,560.75 L292.00,561.75 L303.00,562.25 L377.20,562.30 L387.40,575.20 L398.60,575.20 L408.80,571.90 L418.90,564.50 L429.60,556.60 L440.40,552.70 L451.00,544.00 L462.30,539.70 L473.00,528.20 L484.20,524.70 L494.50,516.20 L504.90,513.90 L516.30,510.10 L526.60,507.10 L537.00,506.00 L548.30,506.00 L558.70,502.20 L569.10,500.10 L579.50,499.70 L590.80,498.20 L601.20,497.60 L612.50,495.40 L622.90,494.40 L697.50,494.40 L707.50,553.90 L718.30,553.90 L729.00,547.30 L740.00,548.60 L750.00,547.80 L760.90,547.80 L771.60,545.10 L783.00,544.90 L793.30,544.00 L804.70,544.20 L814.90,540.10 L825.20,537.60 L835.90,533.70 L846.80,535.10 L857.10,536.00 L868.00,536.00 L878.70,534.20 L889.40,533.00 L899.20,535.80 L1017.70,535.80 L1028.40,561.50 L1038.90,561.50 L1049.60,556.30 L1059.90,555.10 L1071.30,555.10 L1081.50,554.30 L1092.30,554.30 L1102.70,551.00 L1188.60,551.00 L1219.70,547.20 L1251.80,546.60 L1262.20,545.70 L1272.60,543.80 L1283.90,538.30 L1294.30,534.20 L1304.70,534.50 L1349.00,534.50" stroke="#2e2e2e" stroke-width="1.8" fill="none" stroke-linejoin="round"/>
</g>
<text stroke="#131722" stroke-width="0.3" x="1471.30" y="12.35" textLength="53.40" lengthAdjust="spacingAndGlyphs" fill="#131722">5200.00</text>
<text stroke="#131722" stroke-width="0.3" x="1471.30" y="91.85" textLength="53.40" lengthAdjust="spacingAndGlyphs" fill="#131722">4800.00</text>
<text stroke="#131722" stroke-width="0.3" x="1471.30" y="131.60" textLength="53.40" lengthAdjust="spacingAndGlyphs" fill="#131722">4600.00</text>
<text stroke="#131722" stroke-width="0.3" x="1471.30" y="171.35" textLength="53.40" lengthAdjust="spacingAndGlyphs" fill="#131722">4400.00</text>
<text stroke="#131722" stroke-width="0.3" x="1471.30" y="211.10" textLength="53.40" lengthAdjust="spacingAndGlyphs" fill="#131722">4200.00</text>
<text stroke="#131722" stroke-width="0.3" x="1471.30" y="250.85" textLength="53.40" lengthAdjust="spacingAndGlyphs" fill="#131722">4000.00</text>
<text stroke="#131722" stroke-width="0.3" x="1471.30" y="290.60" textLength="53.40" lengthAdjust="spacingAndGlyphs" fill="#131722">3800.00</text>
<text stroke="#131722" stroke-width="0.3" x="1471.30" y="330.35" textLength="53.40" lengthAdjust="spacingAndGlyphs" fill="#131722">3600.00</text>
<text stroke="#131722" stroke-width="0.3" x="1471.30" y="370.10" textLength="53.40" lengthAdjust="spacingAndGlyphs" fill="#131722">3400.00</text>
<text stroke="#131722" stroke-width="0.3" x="1471.30" y="409.85" textLength="53.40" lengthAdjust="spacingAndGlyphs" fill="#131722">3200.00</text>
<text stroke="#131722" stroke-width="0.3" x="1471.30" y="449.60" textLength="53.40" lengthAdjust="spacingAndGlyphs" fill="#131722">3000.00</text>
<text stroke="#131722" stroke-width="0.3" x="1471.50" y="504.15" textLength="45.70" lengthAdjust="spacingAndGlyphs" fill="#131722">160.00</text>
<text stroke="#131722" stroke-width="0.3" x="1471.50" y="583.05" textLength="37.30" lengthAdjust="spacingAndGlyphs" fill="#131722">80.00</text>
<rect x="1460.5" y="42.5" width="71.5" height="21.5" rx="2.5" fill="#089981"/>
<text stroke="#fff" stroke-width="0.3" x="1471.30" y="58.30" textLength="53.40" lengthAdjust="spacingAndGlyphs" fill="#fff">4973.59</text>
<rect x="1460.5" y="125.5" width="71.5" height="22.0" rx="2.5" fill="#000"/>
<text stroke="#fff" stroke-width="0.3" x="1471.30" y="141.55" textLength="53.40" lengthAdjust="spacingAndGlyphs" fill="#fff">4549.89</text>
<rect x="1460.5" y="159.25" width="71.5" height="21.75" rx="2.5" fill="#000"/>
<text stroke="#fff" stroke-width="0.3" x="1471.30" y="175.18" textLength="53.40" lengthAdjust="spacingAndGlyphs" fill="#fff">4381.67</text>
<rect x="1460.5" y="181.25" width="71.5" height="22.0" rx="2.5" fill="#ff6d00"/>
<text stroke="#fff" stroke-width="0.3" x="1471.30" y="197.30" textLength="53.40" lengthAdjust="spacingAndGlyphs" fill="#fff">4364.74</text>
<rect x="1460.5" y="206.75" width="71.5" height="20.849999999999994" rx="2.5" fill="#2196f3"/>
<text stroke="#fff" stroke-width="0.3" x="1471.30" y="222.23" textLength="53.40" lengthAdjust="spacingAndGlyphs" fill="#fff">4146.61</text>
<rect x="1460.5" y="257.5" width="71.5" height="21.80000000000001" rx="2.5" fill="#000"/>
<text stroke="#fff" stroke-width="0.3" x="1471.30" y="273.45" textLength="53.40" lengthAdjust="spacingAndGlyphs" fill="#fff">3886.62</text>
<rect x="1460.5" y="285" width="71.5" height="22" rx="2.5" fill="#26c6da"/>
<text stroke="#131722" stroke-width="0.3" x="1471.30" y="301.05" textLength="53.40" lengthAdjust="spacingAndGlyphs" fill="#131722">3745.73</text>
<rect x="1460.5" y="334.25" width="71.5" height="21.5" rx="2.5" fill="#000"/>
<text stroke="#fff" stroke-width="0.3" x="1471.30" y="350.05" textLength="53.40" lengthAdjust="spacingAndGlyphs" fill="#fff">3500.14</text>
<rect x="1460.6" y="524.7" width="62.0" height="21.09999999999991" rx="2.5" fill="#000"/>
<text stroke="#fff" stroke-width="0.3" x="1471.30" y="540.30" textLength="45.90" lengthAdjust="spacingAndGlyphs" fill="#fff">123.88</text>
<rect x="1460.6" y="548.2" width="62.0" height="21.399999999999977" rx="2.5" fill="#a8a8a8"/>
<text stroke="#131722" stroke-width="0.3" x="1471.30" y="563.95" textLength="45.90" lengthAdjust="spacingAndGlyphs" fill="#131722">100.00</text>
<text stroke="#131722" stroke-width="0.3" x="12.50" y="607.30" textLength="25.00" lengthAdjust="spacingAndGlyphs" fill="#131722">Aug</text>
<text stroke="#131722" stroke-width="0.3" x="125.40" y="607.30" textLength="14.00" lengthAdjust="spacingAndGlyphs" fill="#131722">15</text>
<text stroke="#131722" stroke-width="0.3" x="237.60" y="607.30" textLength="24.00" lengthAdjust="spacingAndGlyphs" fill="#131722">Sep</text>
<text stroke="#131722" stroke-width="0.3" x="349.50" y="607.30" textLength="14.00" lengthAdjust="spacingAndGlyphs" fill="#131722">15</text>
<text stroke="#131722" stroke-width="0.3" x="472.35" y="607.30" textLength="23.10" lengthAdjust="spacingAndGlyphs" fill="#131722">Oct</text>
<text stroke="#131722" stroke-width="0.3" x="583.90" y="607.30" textLength="14.00" lengthAdjust="spacingAndGlyphs" fill="#131722">15</text>
<text stroke="#131722" stroke-width="0.3" x="717.40" y="607.30" textLength="25.00" lengthAdjust="spacingAndGlyphs" fill="#131722">Nov</text>
<text stroke="#131722" stroke-width="0.3" x="829.65" y="607.30" textLength="13.70" lengthAdjust="spacingAndGlyphs" fill="#131722">17</text>
<text stroke="#131722" stroke-width="0.3" x="931.00" y="607.30" textLength="25.00" lengthAdjust="spacingAndGlyphs" fill="#131722">Dec</text>
<text stroke="#131722" stroke-width="0.3" x="1043.00" y="607.30" textLength="14.00" lengthAdjust="spacingAndGlyphs" fill="#131722">15</text>
<text stroke="#131722" stroke-width="0.1" x="1161.40" y="607.30" textLength="34.20" lengthAdjust="spacingAndGlyphs" fill="#131722" font-weight="bold">2026</text>
<text stroke="#131722" stroke-width="0.3" x="1277.90" y="607.30" textLength="14.00" lengthAdjust="spacingAndGlyphs" fill="#131722">15</text>
<text stroke="#131722" stroke-width="0.3" x="1433.40" y="607.30" textLength="23.80" lengthAdjust="spacingAndGlyphs" fill="#131722">Feb</text>
<text stroke="#131722" stroke-width="0.3" x="11.60" y="25.00" textLength="87.40" lengthAdjust="spacingAndGlyphs" fill="#131722">XAU/USD, 1D</text>
<text stroke="#131722" stroke-width="0.3" x="109.30" y="25.00" textLength="10.10" lengthAdjust="spacingAndGlyphs" fill="#131722">O</text>
<text stroke="#089981" stroke-width="0.3" x="120.10" y="25.00" textLength="50.80" lengthAdjust="spacingAndGlyphs" fill="#089981">4917.15</text>
<text stroke="#131722" stroke-width="0.3" x="181.70" y="25.00" textLength="8.60" lengthAdjust="spacingAndGlyphs" fill="#131722">H</text>
<text stroke="#089981" stroke-width="0.3" x="191.00" y="25.00" textLength="52.20" lengthAdjust="spacingAndGlyphs" fill="#089981">4988.36</text>
<text stroke="#131722" stroke-width="0.3" x="254.00" y="25.00" textLength="6.40" lengthAdjust="spacingAndGlyphs" fill="#131722">L</text>
<text stroke="#089981" stroke-width="0.3" x="260.70" y="25.00" textLength="51.90" lengthAdjust="spacingAndGlyphs" fill="#089981">4899.82</text>
<text stroke="#131722" stroke-width="0.3" x="322.90" y="25.00" textLength="7.90" lengthAdjust="spacingAndGlyphs" fill="#131722">C</text>
<text stroke="#089981" stroke-width="0.3" x="331.80" y="25.00" textLength="52.70" lengthAdjust="spacingAndGlyphs" fill="#089981">4973.59</text>
<text stroke="#089981" stroke-width="0.3" x="393.80" y="25.00" textLength="106.00" lengthAdjust="spacingAndGlyphs" fill="#089981">+56.55 (+1.15%)</text>
<text stroke="#131722" stroke-width="0.3" x="11.60" y="47.00" textLength="299.40" lengthAdjust="spacingAndGlyphs" fill="#131722">Moving Average Triple (50, 100, 200, Simple)</text>
<text stroke="#ff6d00" stroke-width="0.3" x="321.50" y="47.00" textLength="53.00" lengthAdjust="spacingAndGlyphs" fill="#ff6d00">4364.74</text>
<text stroke="#2196f3" stroke-width="0.3" x="383.80" y="47.00" textLength="50.80" lengthAdjust="spacingAndGlyphs" fill="#2196f3">4146.61</text>
<text stroke="#26c6da" stroke-width="0.3" x="445.80" y="47.00" textLength="52.10" lengthAdjust="spacingAndGlyphs" fill="#26c6da">3745.73</text>
<text stroke="#131722" stroke-width="0.3" x="11.60" y="69.20" textLength="186.10" lengthAdjust="spacingAndGlyphs" fill="#131722">Pivots (Traditional, Daily, 1)</text>
<text stroke="#131722" stroke-width="0.3" x="11.60" y="509.00" textLength="216.40" lengthAdjust="spacingAndGlyphs" fill="#131722">FXS Fed Sentiment Index (close)</text>
<text stroke="#131722" stroke-width="0.3" x="238.75" y="509.00" textLength="43.75" lengthAdjust="spacingAndGlyphs" fill="#131722">123.88</text>
<text stroke="#a8a8a8" stroke-width="0.3" x="292.50" y="509.00" textLength="44.25" lengthAdjust="spacingAndGlyphs" fill="#a8a8a8">100.00</text>
<rect x="0" y="0" width="1536" height="1.8" fill="#eff1f5"/>
<rect x="0" y="0" width="1.7" height="621" fill="#eff1f5"/>
<rect x="1534.2" y="0" width="1.8" height="621" fill="#eff1f5"/>
<rect x="0" y="618.9" width="1536" height="2.1" fill="#eff1f5"/>
</svg>
</body></html>
